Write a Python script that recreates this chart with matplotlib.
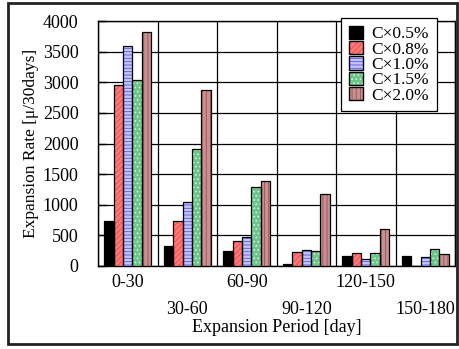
import numpy as np
import matplotlib
matplotlib.use("Agg")
import matplotlib.pyplot as plt
from matplotlib.patches import Patch, Rectangle

plt.rcParams["font.family"] = ["Liberation Serif", "DejaVu Serif"]
plt.rcParams["hatch.linewidth"] = 0.6

# expansion rate per 30 days, one list per additive ratio
periods = ["0-30", "30-60", "60-90", "90-120", "120-150", "150-180"]
series_labels = ["C×0.5%", "C×0.8%", "C×1.0%", "C×1.5%", "C×2.0%"]
rate_05 = [730, 330, 245, 35, 160, 170]
rate_08 = [2955, 730, 405, 230, 220, 0]
rate_10 = [3590, 1040, 475, 255, 110, 140]
rate_15 = [3035, 1905, 1295, 240, 220, 270]
rate_20 = [3815, 2870, 1395, 1170, 605, 200]
yticks = [0, 500, 1000, 1500, 2000, 2500, 3000, 3500, 4000]

series = [rate_05, rate_08, rate_10, rate_15, rate_20]
# (face, hatch colour, hatch)
styles = [
    ("#000000", "#000000", None),
    ("#ff7878", "#e84848", "//////"),
    ("#c4c4ff", "#5858e0", "-----"),
    ("#6cc68c", "#d8f8e0", "...."),
    ("#c89090", "#985050", "||||"),
]

fig = plt.figure(figsize=(4.59, 3.49), dpi=100)
ax = fig.add_axes([98 / 459, 1 - 266 / 349, 357 / 459, 245 / 349])

x = np.arange(len(periods))
w = 0.158
for i, (vals, (fc, hc, hatch)) in enumerate(zip(series, styles)):
    pos = x + (i - 2) * w
    ax.bar(pos, vals, w, color=fc, edgecolor=hc, hatch=hatch,
           linewidth=0, zorder=3)
    ax.bar(pos, vals, w, facecolor="none", edgecolor="black",
           linewidth=0.9, zorder=4)

ax.set_xlim(-0.5, len(periods) - 0.5)
ax.set_ylim(0, 4000)
ax.set_yticks(yticks)
ax.set_xticks(x)
ax.set_xticklabels([p if k % 2 == 0 else "\n" + p for k, p in enumerate(periods)],
                   fontsize=13, linespacing=1.75)
ax.set_xticks(np.arange(len(periods) + 1) - 0.5, minor=True)
ax.tick_params(axis="x", which="both", length=0, pad=6)
ax.tick_params(axis="y", direction="in", length=6, width=1, pad=14,
               labelsize=13)
ax.grid(True, axis="y", color="black", linewidth=0.9, zorder=0)
ax.grid(True, axis="x", which="minor", color="black", linewidth=0.9, zorder=0)
ax.set_axisbelow(True)
for sp in ax.spines.values():
    sp.set_linewidth(1.0)

ax.set_xlabel("Expansion Period [day]", fontsize=13, labelpad=1)
ax.set_ylabel("Expansion Rate [μ/30days]", fontsize=12.5, labelpad=3)

handles = []
for fc, hc, hatch in styles:
    handles.append((Patch(facecolor=fc, edgecolor=hc, hatch=hatch, linewidth=0),
                    Patch(facecolor="none", edgecolor="black", linewidth=1.0)))
leg = fig.legend(handles, series_labels, loc="upper right",
                 bbox_to_anchor=(437 / 459, 1 - 18 / 349), fontsize=12.5,
                 frameon=True, fancybox=False, edgecolor="black",
                 framealpha=1, labelspacing=-0.08, handlelength=0.8,
                 handleheight=0.8, handletextpad=0.5, borderpad=0.45,
                 borderaxespad=0)
leg.get_frame().set_linewidth(0.9)

fig.patches.append(Rectangle((8 / 459, 1 - 344 / 349), 449 / 459, 341 / 349,
                             transform=fig.transFigure, fill=False,
                             edgecolor="#222222", linewidth=2.0))

fig.savefig("out.png", dpi=100)
